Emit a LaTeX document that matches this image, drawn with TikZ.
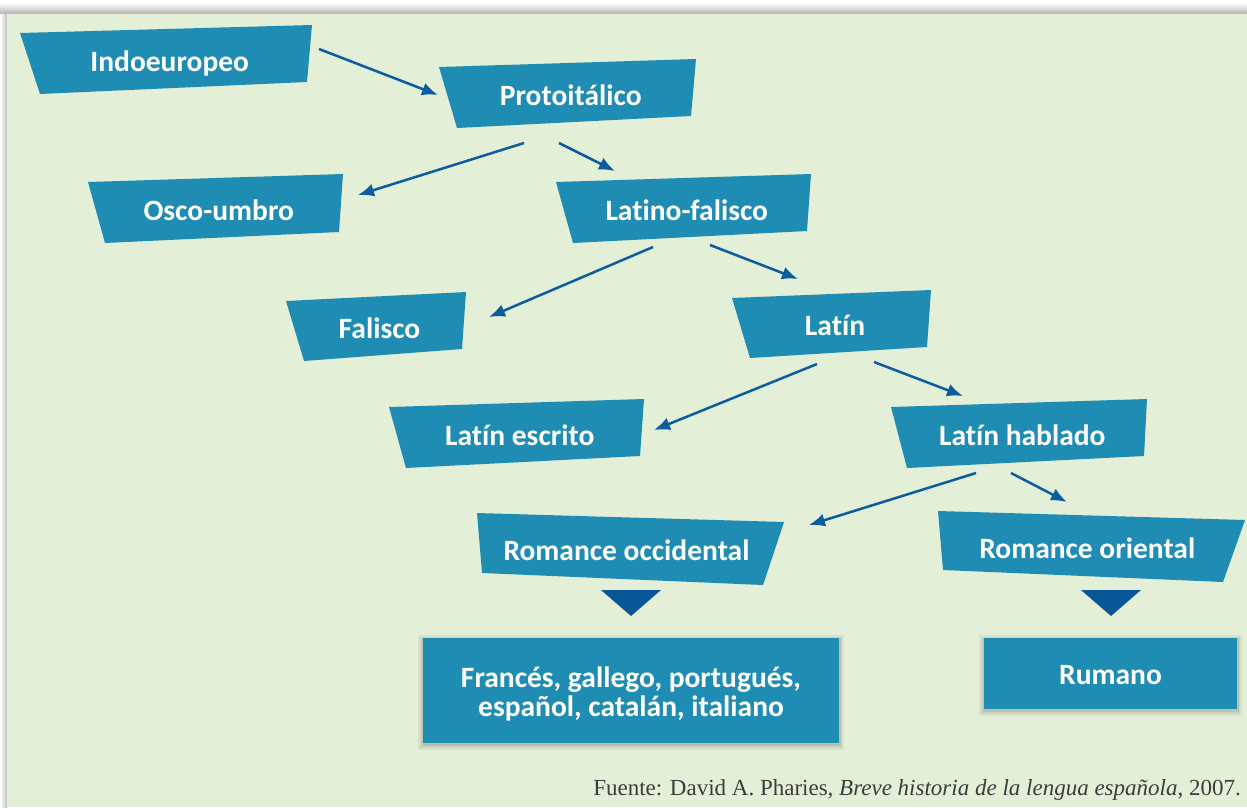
\documentclass[tikz,border=0pt]{standalone}
\usepackage{fontspec}
\setmainfont{Liberation Serif}
\newfontfamily\boxfont[Ligatures=NoCommon]{Carlito}
\usetikzlibrary{arrows.meta,calc}

\definecolor{panelgreen}{RGB}{227,239,214}
\definecolor{boxblue}{RGB}{31,141,179}
\definecolor{arrowblue}{RGB}{12,92,160}
\definecolor{tipblue}{RGB}{8,86,152}
\definecolor{sourcegray}{RGB}{60,60,60}

% slanted box: name, four corners, text
\newcommand{\langbox}[6]{%
  \fill[boxblue] #2 -- #3 -- #4 -- #5 -- cycle;
  \node[boxtext] (#1) at ($0.25*#2+0.25*#3+0.25*#4+0.25*#5+(0,3)$) {#6};
}

\begin{document}
\begin{tikzpicture}[x=1pt,y=-1pt,
    boxtext/.style={text=white, inner sep=0pt, text height=19pt, text depth=0pt,
                    font=\boxfont\bfseries\fontsize{29.5}{32}\selectfont},
    resttext/.style={text=white, inner sep=0pt, align=center,
                    font=\boxfont\bfseries\fontsize{29.5}{29}\selectfont},
    restbox/.style={fill=boxblue, inner sep=0pt,
                    preaction={draw=black!70, opacity=0.07, line width=10pt,
                               transform canvas={yshift=-2pt}},
                    preaction={draw=black!70, opacity=0.10, line width=6pt,
                               transform canvas={yshift=-2pt}},
                    preaction={draw=black!70, opacity=0.12, line width=3pt,
                               transform canvas={yshift=-1pt}}},
    arr/.style={arrowblue, line width=2.5pt, -{Latex[length=16pt,width=13pt]}},
    tri/.style={fill=tipblue}]

   \useasboundingbox (0,0) rectangle (1247,807);

   % Background
   \fill[white] (0,0) rectangle (1247,807);
   \shade[top color=white, bottom color=black!30] (0,3) rectangle (1247,14);
   \shade[left color=white, right color=black!25] (0,14) rectangle (7,807);
   \fill[panelgreen] (7,14) rectangle (1247,807);

   % Boxes
   \langbox{indo}{(20,33)}{(312,25)}{(307,82)}{(40,94)}{Indoeuropeo}
   \langbox{proto}{(439,67)}{(696,59)}{(691,116)}{(457,128)}{Protoitálico}
   \langbox{osco}{(88,182)}{(343,174)}{(339,232)}{(105,243)}{Osco-umbro}
   \langbox{latfal}{(556,182)}{(811,174)}{(807,231)}{(573,243)}{Latino-falisco}
   \langbox{falisco}{(286,301)}{(466,292)}{(462,349)}{(304,361)}{Falisco}
   \langbox{latin}{(732,298)}{(931,290)}{(927,347)}{(750,358)}{Latín}
   \langbox{escrito}{(389,407)}{(644,399)}{(640,456)}{(406,468)}{Latín escrito}
   \langbox{hablado}{(891,407)}{(1147,399)}{(1144,456)}{(907,468)}{Latín hablado}
   \langbox{occid}{(477,513)}{(784,522)}{(763,585)}{(482,573)}{Romance occidental}
   \langbox{orient}{(938,511)}{(1245,520)}{(1223,582)}{(943,570)}{Romance oriental}

   % Resulting languages
   \node[restbox, minimum width=416pt, minimum height=105pt] (west) at (631,690.5) {};
   \node[resttext] (west-text) at ($(west.center)+(0,3)$)
        {Francés, gallego, portugués,\\español, catalán, italiano};
   \node[restbox, minimum width=253pt, minimum height=71pt] (rumano) at (1110.5,673.5) {};
   \node[boxtext] (rumano-text) at ($(rumano.center)+(0,1)$) {Rumano};

   \fill[tri] (601,590) -- (661,590) -- (631,616) -- cycle;
   \fill[tri] (1081,590) -- (1141,590) -- (1111,616) -- cycle;

   % Arrow ends
   \coordinate (indo-out)    at (319,49);
   \coordinate (proto-in)    at (438,95);
   \coordinate (proto-l)     at (524,143);
   \coordinate (proto-r)     at (559,143);
   \coordinate (osco-in)     at (358,195);
   \coordinate (latfal-in)   at (615,171);
   \coordinate (latfal-l)    at (653,247);
   \coordinate (latfal-r)    at (710,245);
   \coordinate (falisco-in)  at (489,317);
   \coordinate (latin-in)    at (798,279);
   \coordinate (latin-l)     at (817,364);
   \coordinate (latin-r)     at (874,362);
   \coordinate (escrito-in)  at (654,430);
   \coordinate (hablado-in)  at (963,396);
   \coordinate (hablado-l)   at (976,473);
   \coordinate (hablado-r)   at (1011,473);
   \coordinate (occid-in)    at (809,525);
   \coordinate (orient-in)   at (1067,502);

   % Arrows
   \draw[arr] (indo-out) -- (proto-in);
   \draw[arr] (proto-l) -- (osco-in);
   \draw[arr] (proto-r) -- (latfal-in);
   \draw[arr] (latfal-l) -- (falisco-in);
   \draw[arr] (latfal-r) -- (latin-in);
   \draw[arr] (latin-l) -- (escrito-in);
   \draw[arr] (latin-r) -- (hablado-in);
   \draw[arr] (hablado-l) -- (occid-in);
   \draw[arr] (hablado-r) -- (orient-in);

   % Source
   \node[anchor=base east, inner sep=0pt, text=sourcegray, font=\fontsize{23}{26}\selectfont]
        (source) at (1241,795)
        {Fuente: David A. Pharies, \textit{Breve historia de la lengua española}, 2007.};

\end{tikzpicture}
\end{document}
